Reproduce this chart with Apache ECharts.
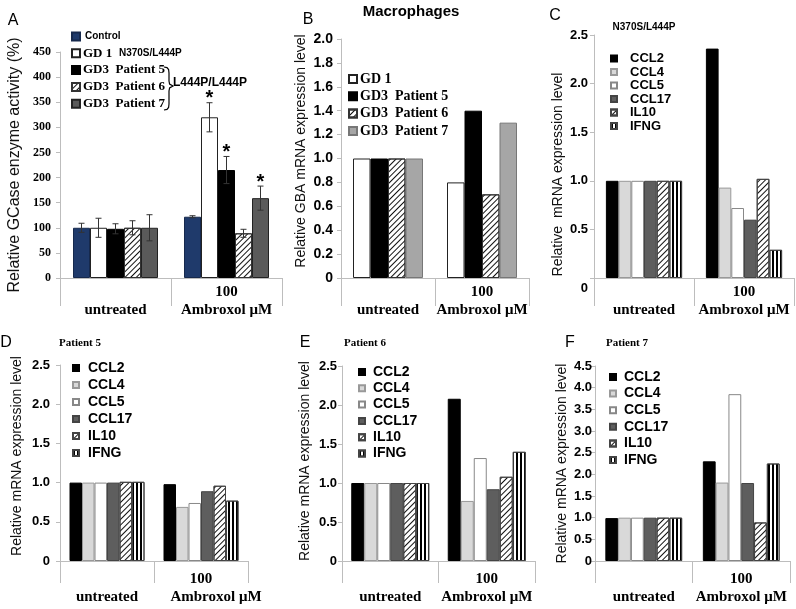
<!DOCTYPE html>
<html><head><meta charset="utf-8">
<script src="https://cdn.jsdelivr.net/npm/echarts/dist/echarts.min.js"></script>
<style>html,body{margin:0;padding:0;background:#fff}#c{width:796px;height:609px}</style>
</head><body><div id="c"></div>
<script>
// ---------------- data ----------------
const groups = ['untreated', 'Ambroxol μM'];

// Panel A: GCase enzyme activity (%)
const aNames = ['Control', 'GD 1  N370S/L444P', 'GD3  Patient 5', 'GD3  Patient 6', 'GD3  Patient 7'];
const aUntreated = [100, 100, 98, 100, 100];
const aAmbroxol = [122, 320, 215, 89, 159];
const aErrUntreated = [9, 19, 10, 14, 26];
const aErrAmbroxol = [2, 29, 27, 8, 24];
const aSigAmbroxol = [0, 1, 1, 0, 1];
const aTicks = {min: 0, max: 450, interval: 50};

// Panel B: GBA mRNA
const bNames = ['GD 1', 'GD3  Patient 5', 'GD3  Patient 6', 'GD3  Patient 7'];
const bUntreated = [1.0, 1.0, 1.0, 1.0];
const bAmbroxol = [0.80, 1.40, 0.70, 1.30];
const bTicks = {min: 0, max: 2.0, interval: 0.2};

// Panels C-F: cytokine mRNA
const cytoNames = ['CCL2', 'CCL4', 'CCL5', 'CCL17', 'IL10', 'IFNG'];
const cUntreated = [1.0, 1.0, 1.0, 1.0, 1.0, 1.0];
const cAmbroxol = [2.36, 0.93, 0.72, 0.60, 1.02, 0.29];
const dUntreated = [1.0, 1.0, 1.0, 1.0, 1.01, 1.01];
const dAmbroxol = [0.98, 0.69, 0.74, 0.89, 0.96, 0.77];
const eUntreated = [1.0, 1.0, 1.0, 1.0, 1.0, 1.0];
const eAmbroxol = [2.08, 0.77, 1.32, 0.92, 1.08, 1.40];
const fUntreated = [0.99, 1.0, 1.0, 1.0, 1.0, 1.0];
const fAmbroxol = [2.30, 1.81, 3.85, 1.80, 0.89, 2.25];
const cTicks = {min: 0, max: 2.5, interval: 0.5};
const fTicks = {min: 0, max: 4.5, interval: 0.5};

// ---------------- styles ----------------
const SANS = 'Liberation Sans', SERIF = 'Liberation Serif';
const AX = '#bdbdbd';
const hatch = {symbol: 'rect', symbolSize: 1, symbolKeepAspect: false, color: '#111',
  dashArrayX: [1, 0], dashArrayY: [1, 2.6], rotation: -Math.PI / 4};
const vstripe = {symbol: 'rect', symbolSize: 1, symbolKeepAspect: false, color: '#000',
  dashArrayX: [1.3, 1.7], dashArrayY: [1, 0], rotation: 0};

const aStyles = [
  {color: '#1f3a6b', borderColor: '#16294d', borderWidth: 1},
  {color: '#fff', borderColor: '#222', borderWidth: 1},
  {color: '#000', borderColor: '#000', borderWidth: 1},
  {color: '#fff', borderColor: '#333', borderWidth: 1, decal: hatch},
  {color: '#5a5a5a', borderColor: '#222', borderWidth: 1}
];
const bStyles = [
  {color: '#fff', borderColor: '#222', borderWidth: 1},
  {color: '#000', borderColor: '#000', borderWidth: 1},
  {color: '#fff', borderColor: '#333', borderWidth: 1, decal: hatch},
  {color: '#a6a6a6', borderColor: '#777', borderWidth: 1}
];
const cytoStyles = [
  {color: '#000', borderColor: '#000', borderWidth: 1},
  {color: '#d9d9d9', borderColor: '#999', borderWidth: 1},
  {color: '#fff', borderColor: '#888', borderWidth: 1},
  {color: '#5e5e5e', borderColor: '#444', borderWidth: 1},
  {color: '#fff', borderColor: '#444', borderWidth: 1, decal: hatch},
  {color: '#fff', borderColor: '#444', borderWidth: 1, decal: vstripe}
];

// ---------------- layout ----------------
const grids = [
  {left: 60, top: 52, width: 222, height: 226},   // A
  {left: 341, top: 39, width: 188, height: 239},  // B
  {left: 594, top: 35, width: 200, height: 243},  // C
  {left: 60, top: 365, width: 188, height: 196},  // D
  {left: 342, top: 366, width: 193, height: 195}, // E
  {left: 595, top: 366, width: 195, height: 195}  // F
];

function catLabelPlain(v) { return v === 'untreated' ? '\nuntreated' : '100\nAmbroxol μM'; }
function xAxisFor(gi, tickLen, margin, shiftAmb) {
  const ax = {
    type: 'category', gridIndex: gi, data: groups,
    axisLine: {show: true, lineStyle: {color: AX, width: 1}},
    axisTick: {show: true, interval: 0, length: tickLen, lineStyle: {color: AX}},
    axisLabel: {interval: 0, margin: margin, color: '#000', fontFamily: SERIF, fontWeight: 'bold',
      fontSize: 15, lineHeight: 18, formatter: catLabelPlain}
  };
  if (shiftAmb) {
    const base = {fontFamily: SERIF, fontWeight: 'bold', fontSize: 15, lineHeight: 18, color: '#000'};
    ax.axisLabel.formatter = v => v === 'untreated' ? '{a|}\n{a|untreated}' : '{a|100}\n{b|Ambroxol μM}';
    ax.axisLabel.rich = {a: Object.assign({}, base), b: Object.assign({padding: [0, 0, 0, 30]}, base)};
  }
  return ax;
}
function yAxisFor(gi, t, o) {
  const ax = {
    type: 'value', gridIndex: gi, min: t.min, max: t.max, interval: t.interval,
    splitLine: {show: false},
    axisLine: {show: true, lineStyle: {color: AX}},
    axisTick: {show: true, length: 4, lineStyle: {color: AX}},
    axisLabel: {margin: o.margin, color: '#000', fontFamily: o.lf, fontWeight: 'bold', fontSize: o.ls,
      formatter: o.fmt},
    name: o.name, nameLocation: 'middle', nameGap: o.gap,
    nameTextStyle: {fontFamily: SANS, fontSize: o.ns, color: '#111', padding: o.pad || [0, 0, 0, 0]}
  };
  if (o.rich) ax.axisLabel.rich = o.rich;
  return ax;
}
const fmt1 = v => v === 0 ? '0' : v.toFixed(1);
const mrna = 'Relative  mRNA expression level';

const xAxes = [
  xAxisFor(0, 28, 5, false), xAxisFor(1, 28, 5, false), xAxisFor(2, 28, 5, false),
  xAxisFor(3, 22, 9, true), xAxisFor(4, 22, 9, false), xAxisFor(5, 22, 9, false)
];
const yAxes = [
  yAxisFor(0, aTicks, {margin: 9, lf: SERIF, ls: 12, fmt: v => String(v),
    name: 'Relative GCase enzyme activity (%)', gap: 37, ns: 16}),
  yAxisFor(1, bTicks, {margin: 8, lf: SANS, ls: 14, fmt: fmt1,
    name: 'Relative GBA mRNA expression level', gap: 33, ns: 14, pad: [0, 0, 0, 15]}),
  yAxisFor(2, cTicks, {margin: 6, lf: SANS, ls: 13,
    fmt: v => v === 0 ? '{z|0}' : v.toFixed(1),
    rich: {z: {fontFamily: SANS, fontWeight: 'bold', fontSize: 13, color: '#000', padding: [20, 0, 0, 0]}},
    name: mrna, gap: 29, ns: 14, pad: [0, 36, 0, 0]}),
  yAxisFor(3, cTicks, {margin: 10, lf: SANS, ls: 13, fmt: fmt1,
    name: 'Relative mRNA expression level', gap: 36, ns: 14, pad: [0, 0, 0, 14]}),
  yAxisFor(4, cTicks, {margin: 5, lf: SANS, ls: 13, fmt: fmt1,
    name: 'Relative mRNA expression level', gap: 30, ns: 14, pad: [0, 0, 0, 5]}),
  yAxisFor(5, fTicks, {margin: 3, lf: SANS, ls: 13, fmt: fmt1,
    name: 'Relative mRNA expression level', gap: 26, ns: 14})
];

// ---------------- series ----------------
const series = [];
const legends = [];
function addPanel(prefix, gi, names, styles, unt, amb, bw) {
  names.forEach((n, i) => {
    series.push({
      type: 'bar', name: prefix + '|' + n, xAxisIndex: gi, yAxisIndex: gi,
      data: [unt[i], amb[i]], barWidth: bw, barGap: '0%',
      itemStyle: styles[i], emphasis: {disabled: true}
    });
  });
}
addPanel('A', 0, aNames, aStyles, aUntreated, aAmbroxol, 17);
addPanel('B', 1, bNames, bStyles, bUntreated, bAmbroxol, 17.5);
addPanel('C', 2, cytoNames, cytoStyles, cUntreated, cAmbroxol, 12.7);
addPanel('D', 3, cytoNames, cytoStyles, dUntreated, dAmbroxol, 12.5);
addPanel('E', 4, cytoNames, cytoStyles, eUntreated, eAmbroxol, 13);
addPanel('F', 5, cytoNames, cytoStyles, fUntreated, fAmbroxol, 12.8);

// error bars for panel A
const errData = [];
aNames.forEach((n, i) => {
  errData.push([0, aUntreated[i], aErrUntreated[i], i, 0]);
  errData.push([1, aAmbroxol[i], aErrAmbroxol[i], i, aSigAmbroxol[i]]);
});
const aBarW = 17;
series.push({
  type: 'custom', name: 'errA', xAxisIndex: 0, yAxisIndex: 0, z: 10,
  encode: {x: 0, y: 1}, data: errData, silent: true,
  renderItem: function (params, api) {
    const cat = api.value(0), v = api.value(1), e = api.value(2), bi = api.value(3), sig = api.value(4);
    const c = api.coord([cat, v]);
    const x = c[0] + (bi - (aNames.length - 1) / 2) * aBarW;
    const yt = api.coord([cat, v + e])[1], yb = api.coord([cat, v - e])[1];
    const st = {stroke: '#333', lineWidth: 1};
    const ch = [
      {type: 'line', shape: {x1: x, y1: yt, x2: x, y2: yb}, style: st},
      {type: 'line', shape: {x1: x - 3, y1: yt, x2: x + 3, y2: yt}, style: st},
      {type: 'line', shape: {x1: x - 3, y1: yb, x2: x + 3, y2: yb}, style: st}
    ];
    if (sig) ch.push({type: 'text', style: {text: '*', x: x, y: yt - 4, align: 'center', verticalAlign: 'middle',
      font: 'bold 20px "Liberation Sans"', fill: '#000'}});
    return {type: 'group', children: ch};
  }
});

// ---------------- legends ----------------
const strip = n => n.split('|')[1];
legends.push({
  orient: 'vertical', left: 71, top: 30, padding: 0, icon: 'rect',
  itemWidth: 8, itemHeight: 8, itemGap: 3.8,
  data: aNames.map(n => 'A|' + n), selectedMode: false,
  formatter: n => {
    const t = strip(n);
    if (t === 'Control') return '{b|Control}';
    if (t.indexOf('GD 1') === 0) return '{s|GD 1}  {b|N370S/L444P}';
    return '{s|' + t + '}';
  },
  textStyle: {lineHeight: 13, rich: {
    s: {fontFamily: SERIF, fontWeight: 'bold', fontSize: 13, lineHeight: 13, color: '#000', padding: [0, 0, 0, -2]},
    b: {fontFamily: SANS, fontWeight: 'bold', fontSize: 10, lineHeight: 13, color: '#000'}
  }}
});
legends.push({
  orient: 'vertical', left: 348, top: 72, padding: 0, icon: 'rect',
  itemWidth: 8, itemHeight: 8, itemGap: 3.3,
  data: bNames.map(n => 'B|' + n), selectedMode: false,
  formatter: n => '{s|' + strip(n) + '}',
  textStyle: {lineHeight: 14, rich: {
    s: {fontFamily: SERIF, fontWeight: 'bold', fontSize: 14, lineHeight: 14, color: '#000', padding: [0, 0, 0, -2]}
  }}
});
const cytoLeg = [
  {p: 'C', left: 610, top: 52, gap: 0.5, lh: 11.7, pad: 8, fs: 13},
  {p: 'D', left: 72, top: 361, gap: 3, lh: 14, pad: 4, fs: 14},
  {p: 'E', left: 358, top: 365, gap: 2.3, lh: 14, pad: 3, fs: 14},
  {p: 'F', left: 609, top: 370, gap: 2.6, lh: 14, pad: 3, fs: 14}
];
cytoLeg.forEach(L => {
  legends.push({
    orient: 'vertical', left: L.left, top: L.top, padding: 0, icon: 'rect',
    itemWidth: 6, itemHeight: 6, itemGap: L.gap,
    data: cytoNames.map(n => L.p + '|' + n), selectedMode: false,
    formatter: n => '{t|' + strip(n) + '}',
    textStyle: {lineHeight: L.lh, rich: {
      t: {fontFamily: SANS, fontWeight: 'bold', fontSize: L.fs, lineHeight: L.lh, color: '#000', padding: [0, 0, 0, L.pad]}
    }}
  });
});

// ---------------- annotations ----------------
function txt(x, y, s, font, align) {
  return {type: 'text', x: x, y: y, silent: true,
    style: {text: s, font: font, fill: '#000', align: align || 'center', verticalAlign: 'middle'}};
}
const panelFont = '16px "Liberation Sans"';
const graphic = [
  txt(13, 21, 'A', panelFont), txt(308, 20, 'B', panelFont), txt(555, 16, 'C', panelFont),
  txt(6, 343, 'D', panelFont), txt(305, 343, 'E', panelFont), txt(570, 343, 'F', panelFont),
  txt(411, 12, 'Macrophages', 'bold 15px "Liberation Sans"'),
  txt(644, 27, 'N370S/L444P', 'bold 10px "Liberation Sans"'),
  txt(80, 343, 'Patient 5', 'bold 11px "Liberation Serif"'),
  txt(365, 343, 'Patient 6', 'bold 11px "Liberation Serif"'),
  txt(627, 343, 'Patient 7', 'bold 11px "Liberation Serif"'),
  txt(173, 83, 'L444P/L444P', 'bold 12px "Liberation Sans"', 'left'),
  {type: 'polyline', silent: true,
    shape: {points: [[164, 67], [167, 67.6], [168.6, 69.5], [169, 73], [169, 81], [169.6, 84], [173, 86],
      [169.6, 88], [169, 91], [169, 104], [168.6, 107.5], [167, 109.4], [164, 110]]},
    style: {stroke: '#000', fill: null, lineWidth: 1.2}}
];

const chart = echarts.init(document.getElementById('c'), null, {renderer: 'canvas'});
chart.setOption({
  animation: false,
  backgroundColor: '#fff',
  grid: grids,
  xAxis: xAxes,
  yAxis: yAxes,
  legend: legends,
  series: series,
  graphic: graphic
});
</script>
</body></html>
